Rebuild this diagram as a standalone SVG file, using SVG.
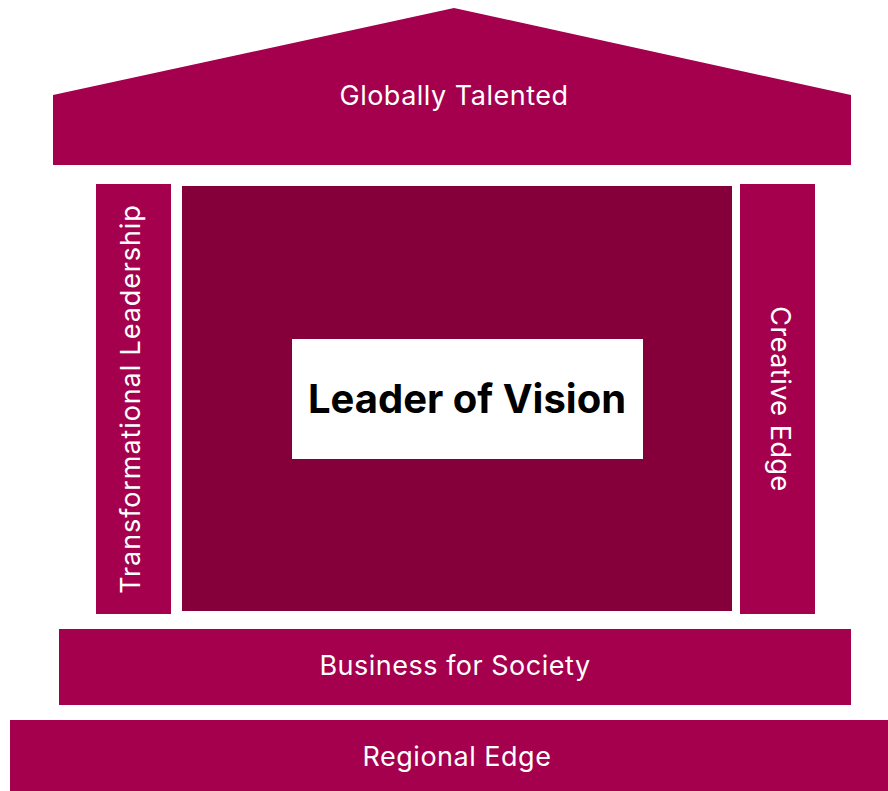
<svg xmlns="http://www.w3.org/2000/svg" width="888" height="791" viewBox="0 0 888 791">
<style>
.b{fill:#A5004D}
.d{fill:#85003B}
.t{font-family:Inter,"Liberation Sans",sans-serif;font-size:27px;fill:#ffffff;text-anchor:middle;dominant-baseline:central;letter-spacing:0.5px}
.m{font-family:Inter,"Liberation Sans",sans-serif;font-size:40px;font-weight:bold;fill:#000000;text-anchor:middle;dominant-baseline:central}
</style>
<rect width="888" height="791" fill="#ffffff"/>
<g id="roof"><polygon class="b" points="53,95 454,8 851,95 851,165 53,165"/><text class="t" x="454" y="95">Globally Talented</text></g>
<g id="left-pillar"><rect class="b" x="96" y="184" width="75" height="430"/><text class="t" style="letter-spacing:0.9px" transform="translate(130,399) rotate(-90)">Transformational Leadership</text></g>
<g id="center"><rect class="d" x="182" y="186" width="550" height="425"/></g>
<g id="vision"><rect x="292" y="339" width="351" height="120" fill="#ffffff"/><text class="m" x="467" y="398">Leader of Vision</text></g>
<g id="right-pillar"><rect class="b" x="740" y="184" width="75" height="430"/><text class="t" transform="translate(780,399) rotate(90)">Creative Edge</text></g>
<g id="business"><rect class="b" x="59" y="629" width="792" height="76"/><text class="t" x="455" y="665">Business for Society</text></g>
<g id="regional"><rect class="b" x="10" y="720" width="878" height="71"/><text class="t" x="457" y="756">Regional Edge</text></g>
<g id="connectors"></g>
</svg>
